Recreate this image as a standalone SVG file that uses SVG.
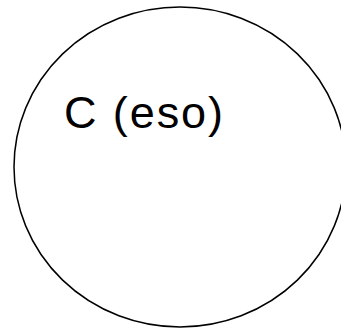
<svg xmlns="http://www.w3.org/2000/svg" width="341" height="328" viewBox="0 0 341 328">
<style>
.shape{fill:#ffffff;stroke:#000000;stroke-width:1.5}
.lbl{font-family:"Liberation Sans",Arial,sans-serif;font-size:45px;fill:#000000}
</style>
<rect width="341" height="328" fill="#ffffff"/>
<g id="node-C">
<ellipse class="shape" cx="180" cy="167" rx="166" ry="160"/>
<text class="lbl" x="64" y="127.5" textLength="159" lengthAdjust="spacing">C (eso)</text>
</g>
<g id="connectors"/>
</svg>
